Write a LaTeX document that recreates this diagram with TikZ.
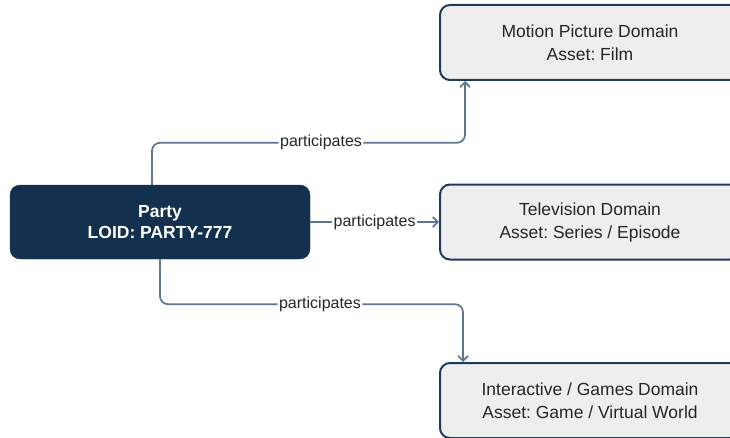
\documentclass[tikz,border=0pt]{standalone}
\usepackage{fontspec}
\setmainfont{Liberation Sans}
\frenchspacing
\usetikzlibrary{arrows.meta}
\definecolor{navy}{HTML}{14304F}
\definecolor{boxedge}{HTML}{1F3B5A}
\definecolor{boxfill}{HTML}{EEEEEE}
\definecolor{wire}{HTML}{5F7690}
\definecolor{ink}{HTML}{262626}
\tikzset{
  partybox/.style={rectangle, rounded corners=10pt, fill=navy, draw=navy,
    minimum width=300pt, minimum height=74pt, text=white, align=center,
    font=\fontsize{17.5}{21}\selectfont\bfseries},
  domainbox/.style={rectangle, rounded corners=10pt, fill=boxfill, draw=boxedge,
    line width=2pt, minimum width=300pt, minimum height=75pt, text=ink,
    align=center, font=\fontsize{17.5}{23}\selectfont},
  conn/.style={draw=wire, line width=1.7pt, rounded corners=8pt,
    -{Straight Barb[length=5pt,width=10pt]}},
  lbl/.style={fill=white, text=ink, inner sep=1.5pt,
    font=\fontsize{16}{18}\selectfont},
}
\begin{document}
\begin{tikzpicture}[x=1pt,y=1pt]
\useasboundingbox (0,0) rectangle (730,437);
\begin{scope}
\clip (0,0) rectangle (730,437);
\node[partybox] (party) at (160,215) {Party\\LOID: PARTY-777};
\node[domainbox] (motion) at (590,394.5) {Motion Picture Domain\\Asset: Film};
\node[domainbox] (tv) at (590,215) {Television Domain\\Asset: Series / Episode};
\node[domainbox] (games) at (590,36.5) {Interactive / Games Domain\\Asset: Game / Virtual World};

\draw[conn] ([xshift=-8pt]party.north) -- ++(0,42)
  -| node[lbl,pos=0.27]{participates} ([xshift=-125pt]motion.south);
\draw[conn] (party.east) -- node[lbl]{participates} (tv.west);
\draw[conn] (party.south) -- ++(0,-45)
  -| node[lbl,pos=0.264]{participates} ([xshift=-127pt]games.north);
\end{scope}
\end{tikzpicture}
\end{document}
